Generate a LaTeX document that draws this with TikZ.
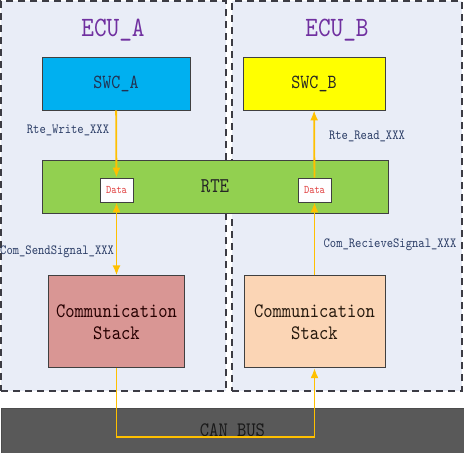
\documentclass[tikz,border=0pt]{standalone}
\usepackage{fontspec}
\setmainfont{lmmono10-regular.otf}[FakeStretch=0.86]
\usepackage{xcolor}
\usetikzlibrary{arrows.meta,positioning}

\definecolor{ecufill}{HTML}{E9EDF7}
\definecolor{dashline}{HTML}{3C3C44}
\definecolor{boxline}{HTML}{404040}
\definecolor{swcacol}{HTML}{00B0F0}
\definecolor{swcbcol}{HTML}{FFFF00}
\definecolor{rtecol}{HTML}{92D050}
\definecolor{comacol}{HTML}{D99694}
\definecolor{combcol}{HTML}{FBD5B5}
\definecolor{buscol}{HTML}{595959}
\definecolor{sigcol}{HTML}{FFC000}
\definecolor{lblcol}{HTML}{2B3D66}
\definecolor{titlecol}{HTML}{7030A0}
\definecolor{datacol}{HTML}{E03C3C}

\begin{document}
\begin{tikzpicture}[x=1pt, y=-1pt, node distance=50pt,
  ecu/.style={draw=dashline, fill=ecufill, line width=1.6pt, dash pattern=on 7pt off 5pt, inner sep=0pt},
  box/.style={draw=boxline, line width=0.8pt, rectangle, align=center, inner sep=0pt, text=black!85},
  databox/.style={box, fill=white!95!ecufill, minimum width=33pt, minimum height=24pt, text=datacol, font=\fontsize{11.6}{12}\selectfont},
  title/.style={text=titlecol, font=\fontsize{28}{30}\selectfont, inner sep=0pt},
  lbl/.style={text=lblcol, font=\fontsize{14}{15}\selectfont, inner sep=0pt},
  sig/.style={draw=sigcol, line width=1.8pt, -{Latex[length=10pt,width=8pt]}}]
  \useasboundingbox (0,0) rectangle (464,453);

  % the two ECUs
  \node[ecu, minimum width=225pt, minimum height=390pt] (ecuA) at (113.5,196) {};
  \node[ecu, minimum width=230pt, minimum height=390pt] (ecuB) at (347,196) {};
  \node[title] (titleA) at (113,30) {ECU\_A};
  \node[title] (titleB) at (337,30) {ECU\_B};

  % software components and RTE
  \node[box, fill=swcacol, minimum width=148pt, minimum height=53pt, font=\fontsize{20}{22}\selectfont, text=lblcol!80!black] (swcA) at (116,83.5) {SWC\_A};
  \node[box, fill=swcbcol, minimum width=142pt, minimum height=53pt, font=\fontsize{20}{22}\selectfont] (swcB) at (314,83.5) {SWC\_B};
  \node[box, fill=rtecol, minimum width=346pt, minimum height=53pt, font=\fontsize{21}{22}\selectfont] (rte) at (215,186.5) {RTE};
  \node[databox] (dataA) at (116.5,190) {Data};
  \node[databox] (dataB) at (314.5,190) {Data};

  % communication stacks
  \node[box, fill=comacol, minimum width=136pt, minimum height=92pt, font=\fontsize{20.6}{22}\selectfont, text=black!75!red!60!black, below=73pt of dataA] (commA) {Communication\\Stack};
  \node[box, fill=combcol, minimum width=141pt, minimum height=92pt, font=\fontsize{20.6}{22}\selectfont, text=black!80!brown, below=73pt of dataB] (commB) {Communication\\Stack};

  % bus
  \node[box, draw=black!70, fill=buscol, minimum width=463pt, minimum height=45pt, font=\fontsize{20.6}{22}\selectfont, text=black!90] (canbus) at (232.5,430.5) {CAN BUS};
  \coordinate (busmid) at (215,437);

  % signal labels
  \node[lbl] (rtewrite) at (68,130) {Rte\_Write\_XXX};
  \node[lbl] (rteread) at (367,136) {Rte\_Read\_XXX};
  \node[lbl, anchor=west] (comsend) at (0,252) {Com\_SendSignal\_XXX};
  \node[lbl] (comrecv) at (390,245) {Com\_RecieveSignal\_XXX};

  % signal flow
  \draw[sig] (swcA) -- (dataA);
  \draw[sig, {Latex[length=10pt,width=8pt]}-{Latex[length=10pt,width=8pt]}] (dataA) -- (commA);
  \draw[sig] (commB) -- (dataB);
  \draw[sig] (dataB) -- (swcB);
  \draw[sig, line width=1.6pt] (commA.south) |- (busmid) -| (commB.south);
\end{tikzpicture}
\end{document}
